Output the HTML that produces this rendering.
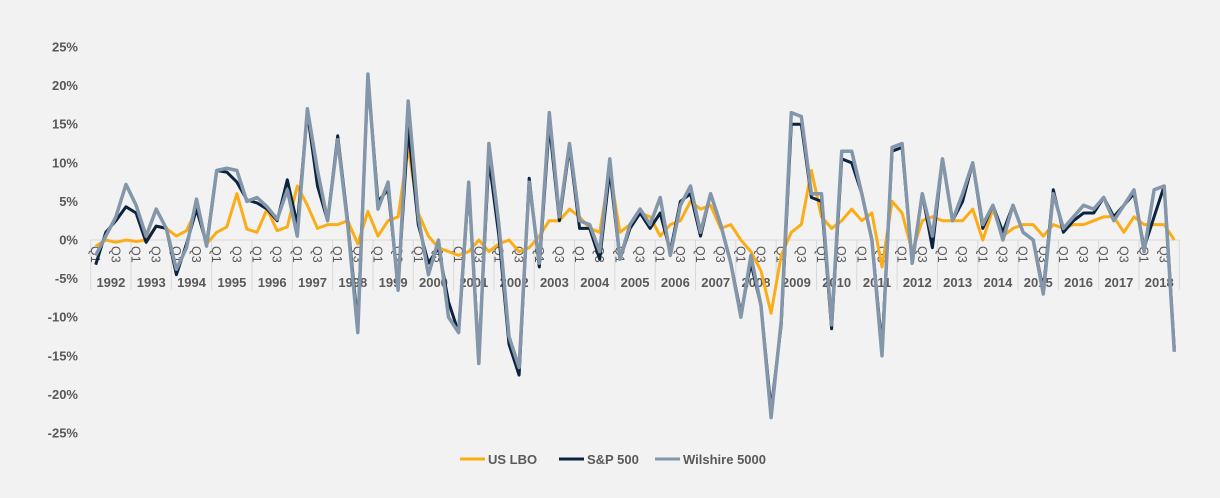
<!DOCTYPE html>
<html><head><meta charset="utf-8"><style>
body{margin:0;background:#f2f2f2;}
svg{display:block;font-family:"Liberation Sans",sans-serif;}
</style></head><body>
<svg id="c" width="1220" height="498" xmlns="http://www.w3.org/2000/svg"></svg>
<script>
const lbo=[-0.8,0,-0.3,0,-0.2,0,1.8,1.5,0.5,1.2,4,-0.5,1,1.7,6,1.4,1,4,1.2,1.7,7,4.5,1.5,2,2,2.5,-0.5,3.7,0.5,2.5,3,12,3.5,0.5,-1,-1.5,-2,-1.5,0,-1.5,-0.5,0,-1.5,-1,0.5,2.5,2.5,4,3,1.5,1,9,1,2,3.5,3,0.5,2,2.5,5,4,4.5,1.5,2,0,-1.5,-4,-9.5,-2,1,2,9,3,1.5,2.5,4,2.5,3.5,-3.5,5,3.5,-1.5,2.5,3,2.5,2.5,2.5,4,0,4,0.5,1.5,2,2,0.5,2,1.5,2,2,2.5,3,3,1,3,2,2,2,0];
const sp=[-3.2,1,2.5,4.3,3.5,-0.3,1.8,1.5,-4.5,-0.5,4,-0.5,9,8.8,7.5,5.2,4.8,4,2.5,7.8,2,16.5,7,2.5,13.5,2.5,-11,21,5,6.5,-6,14.5,2,-3,-1,-8,-12,7,-15,10.5,0.5,-13.5,-17.5,8,-3.5,15,2.5,12,1.5,1.5,-2.5,9,-2.5,1.5,3.5,1.5,3.5,-1.5,5,6,0.5,6,2,-3,-9.5,-3,-8.5,-22,-11,15,15,5.5,5,-11.5,10.5,10,6,0,-14,11.5,12,-3,6,-1,10.5,2.5,5,10,1.5,4.5,1,4.5,1,0,-6.5,6.5,1,2.5,3.5,3.5,5.5,3,4.5,6,-1,3,7,-14];
const wi=[-2,0.5,3,7.2,4.5,0.5,4,1.5,-3.8,-1,5.3,-0.8,9,9.3,9,5,5.5,4.3,2.7,6.5,0.5,17,9,2.5,13,2,-12,21.5,4,7.5,-6.5,18,3,-4.5,0,-10,-12,7.5,-16,12.5,2,-12.5,-16.5,7.5,-3,16.5,3,12.5,2.5,2,-1.5,10.5,-2.5,2,4,2,5.5,-2,4.5,7,1,6,2,-3,-10,-2,-8.5,-23,-10.5,16.5,16,6,6,-11,11.5,11.5,6,0,-15,12,12.5,-3,6,0.5,10.5,2.5,6,10,2,4.5,0,4.5,1,0,-7,6,1.5,3,4.5,4,5.5,2.5,4.5,6.5,-1.5,6.5,7,-14.5];
const X0=90.7,Q=10.08,Y0=240,S=7.72;
const X=i=>X0+Q*(i+0.5),Y=v=>Y0-v*S;
let h='';
for(let v=25;v>=-25;v-=5){h+=`<text x="78" y="${Y(v)+4.5}" text-anchor="end" font-size="13" font-weight="bold" fill="#595959">${v}%</text>`;}
h+=`<line x1="${X0}" y1="240" x2="${X0+108*Q}" y2="240" stroke="#d9d9d9" stroke-width="1"/>`;
for(let k=0;k<=27;k++){const x=X0+k*Q*4;h+=`<line x1="${x}" y1="240" x2="${x}" y2="290" stroke="#d9d9d9"/>`;
 if(k<27){h+=`<text x="${x+20.2}" y="287" text-anchor="middle" font-size="13" font-weight="bold" fill="#595959">${1992+k}</text>`;
 for(const [q,o] of [["Q1",0],["Q3",2]]){const cx=X(k*4+o);h+=`<text transform="translate(${cx-4.5},246) rotate(90)" font-size="12.5" fill="#595959">${q}</text>`;}}}
const path=(d,c,w)=>`<polyline fill="none" stroke="${c}" stroke-width="${w}" stroke-linejoin="round" points="${d.map((v,i)=>X(i).toFixed(1)+','+Y(v).toFixed(1)).join(' ')}"/>`;
h+=path(lbo,'#fbad18',3)+path(sp,'#0c2340',3)+path(wi,'#8496a9',3.5);
const L=[[460,'#fbad18','US LBO'],[559,'#0c2340','S&P 500'],[655,'#8496a9','Wilshire 5000']];
for(const [x,c,t] of L){h+=`<line x1="${x}" y1="459" x2="${x+25}" y2="459" stroke="${c}" stroke-width="3"/><text x="${x+28}" y="464" font-size="13" font-weight="bold" fill="#595959">${t}</text>`;}
document.getElementById('c').innerHTML=h;
</script>
</body></html>
